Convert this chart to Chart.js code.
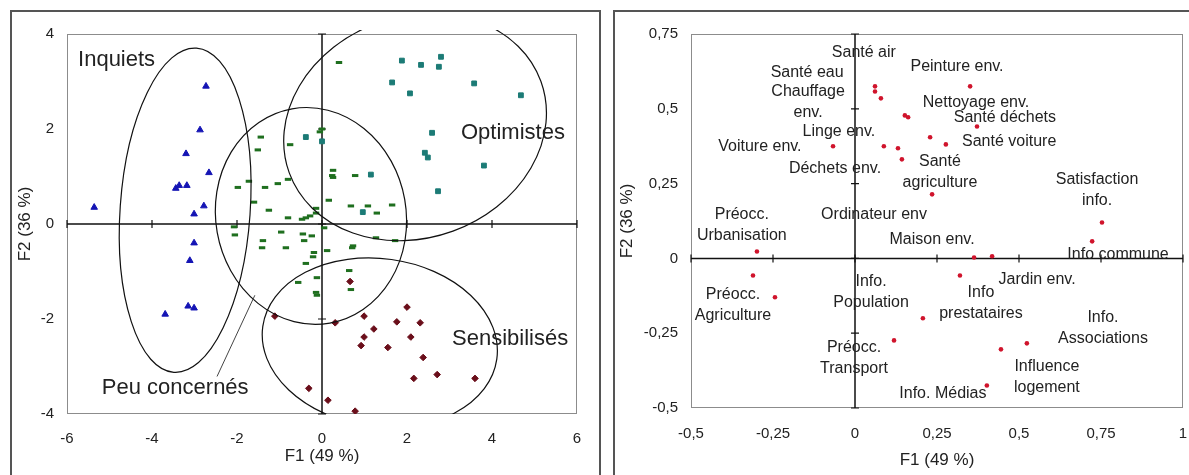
<!DOCTYPE html>
<html><head><meta charset="utf-8">
<script src="https://cdn.jsdelivr.net/npm/chart.js@4"></script>
<style>
html,body{margin:0;padding:0;background:#fff;overflow:hidden;width:1189px;height:475px;}
.frame{position:absolute;top:10px;border:2px solid #555;height:465px;}
#f1{left:10px;width:587px;}
#f2{left:613px;width:580px;}
canvas{display:block;}
</style></head><body>
<div class="frame" id="f1"><canvas id="c1" width="587" height="465"></canvas></div>
<div class="frame" id="f2"><canvas id="c2" width="580" height="465"></canvas></div>
<script>
// ---------- LEFT PANEL DATA (individuals) ----------
const inquietsX = [-2.73,-2.87,-3.20,-2.66,-3.44,-3.36,-3.18,-5.36,-2.78,-3.01,-3.01,-3.11,-3.15,-3.01,-3.69];
const inquietsY = [2.90,1.98,1.48,1.08,0.75,0.81,0.81,0.35,0.38,0.21,-0.40,-0.77,-1.73,-1.77,-1.90];
const optimistesX = [1.88,2.33,2.80,2.75,1.65,2.07,3.58,4.68,2.59,2.42,2.49,3.81,2.73,-0.38,0.00,1.15,0.96];
const optimistesY = [3.44,3.35,3.52,3.31,2.98,2.75,2.96,2.71,1.92,1.50,1.40,1.23,0.69,1.83,1.74,1.04,0.25];
const peuX = [0.40,0.00,-0.05,-1.44,-1.51,-0.75,0.26,0.24,0.26,0.78,-1.72,-1.04,-0.80,-1.98,-1.34,-1.60,0.16,0.68,1.08,1.65,1.29,-0.14,-0.14,-1.25,-0.80,-0.47,-0.38,-0.28,0.05,-2.07,-2.05,-0.96,-0.45,-0.24,-1.39,-1.41,-0.85,-0.42,0.12,-0.19,-0.21,-0.38,1.27,0.73,0.71,1.72,0.64,0.68,-0.12,-0.56,-0.14,-0.12];
const peuY = [3.40,2.00,1.94,1.83,1.56,1.67,1.13,1.02,0.98,1.02,0.90,0.85,0.94,0.77,0.77,0.46,0.50,0.38,0.38,0.40,0.23,0.33,0.23,0.29,0.13,0.10,0.13,0.17,-0.08,-0.06,-0.23,-0.17,-0.21,-0.25,-0.35,-0.50,-0.50,-0.35,-0.56,-0.60,-0.69,-0.83,-0.29,-0.46,-0.50,-0.35,-0.98,-1.38,-1.13,-1.23,-1.44,-1.50];
const sensX = [0.66,0.31,0.99,2.00,1.76,2.31,1.22,0.99,2.09,0.92,1.55,2.38,2.71,2.16,3.60,-0.31,0.14,0.78,-1.11];
const sensY = [-1.21,-2.08,-1.94,-1.75,-2.06,-2.08,-2.21,-2.38,-2.38,-2.56,-2.60,-2.81,-3.17,-3.25,-3.25,-3.46,-3.71,-3.94,-1.94];
const groupNames = ['Inquiets','Optimistes','Peu concernés','Sensibilisés'];
const leftTicksX = [-6,-4,-2,0,2,4,6];
const leftTicksY = [-4,-2,0,2,4];

// ---------- RIGHT PANEL DATA (variables) ----------
const varX = [0.061,0.061,0.079,0.152,0.162,-0.067,0.088,0.131,0.143,0.229,0.277,0.351,0.372,0.235,0.753,0.723,0.363,0.418,0.320,0.207,0.119,0.445,0.524,0.402,-0.299,-0.311,-0.244];
const varY = [0.575,0.558,0.535,0.478,0.472,0.375,0.375,0.368,0.331,0.405,0.381,0.575,0.441,0.214,0.120,0.057,0.003,0.007,-0.057,-0.200,-0.274,-0.304,-0.284,-0.425,0.023,-0.057,-0.130];
const varLabels = ['Santé air','Santé eau','Chauffage\nenv.','Linge env.','Voiture env.','Déchets env.','Préocc.\nUrbanisation','Ordinateur env','Peinture env.','Nettoyage env.','Santé déchets','Santé voiture','Santé\nagriculture','Satisfaction\ninfo.','Maison env.','Info commune','Jardin env.','Info\nprestataires','Info.\nAssociations','Influence\nlogement','Info. Médias','Info.\nPopulation','Préocc.\nAgriculture','Préocc.\nTransport'];
const varLabelX = [0.027,-0.146,-0.143,-0.049,-0.290,-0.061,-0.345,0.058,0.311,0.369,0.457,0.470,0.259,0.738,0.235,0.802,0.555,0.384,0.756,0.585,0.268,0.049,-0.372,-0.003];
const varLabelY = [0.689,0.622,0.558,0.424,0.374,0.301,0.147,0.147,0.642,0.521,0.471,0.391,0.324,0.264,0.064,0.013,-0.070,-0.114,-0.197,-0.361,-0.451,-0.077,-0.120,-0.297];
const rightTicksX = [-0.5,-0.25,0,0.25,0.5,0.75,1];
const rightTicksY = [-0.5,-0.25,0,0.25,0.5,0.75];

// group ellipses (centre, semi-axes in data units, tilt in degrees)
const ellipseCX = [-3.22, 2.19, -0.26, 1.36];
const ellipseCY = [0.29, 2.04, 0.17, -2.50];
const ellipseRX = [1.53, 3.15, 2.24, 2.78];
const ellipseRY = [3.42, 2.33, 2.29, 1.77];
const ellipseRot = [4, -20, -10, 8];
// group label anchors (data units)
const groupLabelX = [-5.74, 3.27, -5.18, 3.06];
const groupLabelY = [3.33, 1.79, -3.58, -2.54];
const pointerX = [-2.47, -1.58];
const pointerY = [-3.21, -1.50];

const FONT = "'Liberation Sans', Arial, sans-serif";
Chart.defaults.font.family = FONT;
Chart.defaults.color = '#222';

const zip = (xs, ys) => xs.map((v, i) => ({x: v, y: ys[i]}));
const fmt = v => String(v).replace('.', ',');

function drawFrameAxes(chart) {
  const {ctx, chartArea: a, scales: {x, y}} = chart;
  ctx.save();
  ctx.strokeStyle = '#8c8c8c'; ctx.lineWidth = 1;
  ctx.strokeRect(a.left + 0.5, a.top + 0.5, a.right - a.left - 1, a.bottom - a.top - 1);
  const x0 = x.getPixelForValue(0), y0 = y.getPixelForValue(0);
  ctx.strokeStyle = '#111'; ctx.lineWidth = 1.5;
  ctx.beginPath();
  ctx.moveTo(a.left, y0); ctx.lineTo(a.right, y0);
  ctx.moveTo(x0, a.top); ctx.lineTo(x0, a.bottom);
  ctx.stroke();
  ctx.lineWidth = 1.2;
  ctx.beginPath();
  x.ticks.forEach(t => { const p = x.getPixelForValue(t.value); ctx.moveTo(p, y0 - 4); ctx.lineTo(p, y0 + 4); });
  y.ticks.forEach(t => { const p = y.getPixelForValue(t.value); ctx.moveTo(x0 - 4, p); ctx.lineTo(x0 + 4, p); });
  ctx.stroke();
  ctx.restore();
}

const decoLeft = {
  id: 'decoLeft',
  beforeDatasetsDraw(chart) { drawFrameAxes(chart); },
  afterDatasetsDraw(chart) {
    const {ctx, chartArea: a, scales: {x, y}} = chart;
    ctx.save();
    ctx.beginPath(); ctx.rect(a.left, a.top - 4, a.right - a.left, a.bottom - a.top + 4); ctx.clip();
    ctx.strokeStyle = '#111'; ctx.lineWidth = 1.2;
    for (let i = 0; i < ellipseCX.length; i++) {
      const cx = x.getPixelForValue(ellipseCX[i]), cy = y.getPixelForValue(ellipseCY[i]);
      const rx = Math.abs(x.getPixelForValue(ellipseCX[i] + ellipseRX[i]) - cx);
      const ry = Math.abs(y.getPixelForValue(ellipseCY[i] + ellipseRY[i]) - cy);
      ctx.beginPath(); ctx.ellipse(cx, cy, rx, ry, ellipseRot[i] * Math.PI / 180, 0, 2 * Math.PI); ctx.stroke();
    }
    ctx.restore();
    ctx.save();
    ctx.strokeStyle = '#444'; ctx.lineWidth = 1;
    ctx.beginPath();
    ctx.moveTo(x.getPixelForValue(pointerX[0]), y.getPixelForValue(pointerY[0]));
    ctx.lineTo(x.getPixelForValue(pointerX[1]), y.getPixelForValue(pointerY[1]));
    ctx.stroke();
    ctx.fillStyle = '#222'; ctx.font = '22px ' + FONT; ctx.textAlign = 'left'; ctx.textBaseline = 'alphabetic';
    groupNames.forEach((n, i) => ctx.fillText(n, x.getPixelForValue(groupLabelX[i]), y.getPixelForValue(groupLabelY[i])));
    ctx.restore();
  }
};

const decoRight = {
  id: 'decoRight',
  beforeDatasetsDraw(chart) { drawFrameAxes(chart); },
  afterDatasetsDraw(chart) {
    const {ctx, scales: {x, y}} = chart;
    ctx.save();
    ctx.fillStyle = '#222'; ctx.font = '16px ' + FONT; ctx.textAlign = 'center'; ctx.textBaseline = 'middle';
    varLabels.forEach((t, i) => {
      const px = x.getPixelForValue(varLabelX[i]), py = y.getPixelForValue(varLabelY[i]);
      t.split('\n').forEach((line, k) => ctx.fillText(line, px, py + k * 21));
    });
    ctx.restore();
  }
};

function axes(o) {
  return {
    x: {
      type: 'linear', min: o.xmin, max: o.xmax,
      afterBuildTicks: s => { s.ticks = o.tx.map(v => ({value: v})); },
      ticks: {font: {size: 15}, color: '#222', padding: o.xpad, callback: fmt, maxRotation: 0, autoSkip: false},
      grid: {display: false, drawTicks: false}, border: {display: false},
      title: {display: true, text: 'F1 (49 %)', font: {size: 17}, color: '#222', padding: {top: 0, bottom: o.xtp}},
      afterFit: s => { s.height = o.xh; s.paddingLeft = 0; s.paddingRight = 0; }
    },
    y: {
      type: 'linear', min: o.ymin, max: o.ymax,
      afterBuildTicks: s => { s.ticks = o.ty.map(v => ({value: v})); },
      ticks: {font: {size: 15}, color: '#222', padding: 13, callback: fmt, autoSkip: false},
      grid: {display: false, drawTicks: false}, border: {display: false},
      title: {display: true, text: 'F2 (36 %)', font: {size: 17}, color: '#222', padding: {top: o.ytp, bottom: 0}},
      afterFit: s => { s.width = o.yw; }
    }
  };
}

const common = {
  responsive: false, animation: false, devicePixelRatio: 1,
  plugins: {legend: {display: false}, tooltip: {enabled: false}},
  events: []
};

new Chart(document.getElementById('c1'), {
  type: 'scatter',
  data: {datasets: [
    {label: groupNames[0], data: zip(inquietsX, inquietsY), pointStyle: 'triangle', pointRadius: 3.8, backgroundColor: '#1414b4', borderColor: '#1414b4', borderWidth: 1},
    {label: groupNames[1], data: zip(optimistesX, optimistesY), pointStyle: 'rect', pointRadius: 3.4, backgroundColor: '#1c7b76', borderColor: '#1c7b76', borderWidth: 1},
    {label: groupNames[2], data: zip(peuX, peuY), pointStyle: 'line', pointRadius: 3.2, backgroundColor: '#1f6f1f', borderColor: '#1f6f1f', borderWidth: 3},
    {label: groupNames[3], data: zip(sensX, sensY), pointStyle: 'rectRot', pointRadius: 3.3, backgroundColor: '#6a0e1a', borderColor: '#6a0e1a', borderWidth: 1}
  ]},
  options: Object.assign({}, common, {
    layout: {padding: {left: 0, top: 19, right: 22, bottom: 0}},
    scales: axes({xmin: -6, xmax: 6, ymin: -4, ymax: 4, tx: leftTicksX, ty: leftTicksY, xpad: 16, xtp: 10, xh: 63, ytp: 3, yw: 55})
  }),
  plugins: [decoLeft]
});

new Chart(document.getElementById('c2'), {
  type: 'scatter',
  data: {datasets: [
    {label: 'Variables', data: zip(varX, varY), pointStyle: 'circle', pointRadius: 2.3, backgroundColor: '#d0142c', borderColor: '#d0142c', borderWidth: 0}
  ]},
  options: Object.assign({}, common, {
    layout: {padding: {left: 0, top: 22, right: 12, bottom: 0}},
    scales: axes({xmin: -0.5, xmax: 1, ymin: -0.5, ymax: 0.75, tx: rightTicksX, ty: rightTicksY, xpad: 17, xtp: 6, xh: 69, ytp: 2, yw: 76})
  }),
  plugins: [decoRight]
});
</script>
</body></html>
